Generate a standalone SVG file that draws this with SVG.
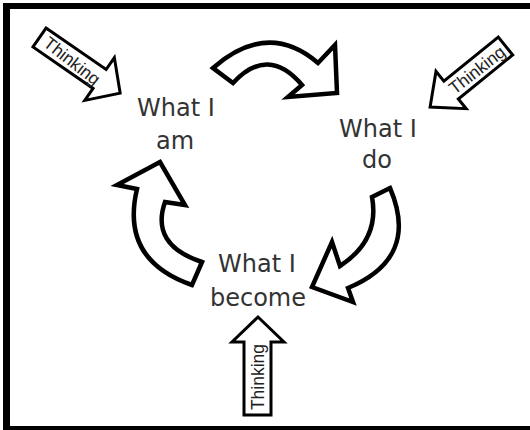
<svg xmlns="http://www.w3.org/2000/svg" width="530" height="430" viewBox="0 0 530 430">
<style>
.frame{fill:#000}
.cyc{fill:#fff;stroke:#000;stroke-width:4.5;stroke-linejoin:miter}
.th{fill:#fff;stroke:#000;stroke-width:3;stroke-linejoin:miter}
.lbl{font-family:"DejaVu Sans","Liberation Sans",sans-serif;font-size:24px;fill:#333;text-anchor:middle}
.tt{font-family:"Liberation Sans",Arial,sans-serif;font-size:17.5px;fill:#222;text-anchor:middle}
</style>
<rect width="530" height="430" fill="#fff"/>
<g id="frame">
<rect class="frame" x="3" y="3" width="527" height="6"/>
<rect class="frame" x="3" y="3" width="7" height="427"/>
<rect class="frame" x="3" y="426" width="527" height="4"/>
</g>
<g id="connectors">
<path id="arrow-am-do" class="cyc" d="M213,68 Q268,20 318,63 L335,45 L337,93 L288,97 L302,85 Q268,45 233,83 Z"/>
<path id="arrow-do-become" class="cyc" d="M372,197 L390,188 Q420,258 348,288 L353,302 L312,287 L332,242 L340,266 Q380,240 372,197 Z"/>
<path id="arrow-become-am" class="cyc" d="M137,189 L117,185 L160,162 L185,205 L165,202 Q150,245 202,262 L192,285 Q120,260 137,189 Z"/>
</g>
<g id="node-am">
<text class="lbl" x="176" y="116">What I</text>
<text class="lbl" x="175" y="149">am</text>
</g>
<g id="node-do">
<text class="lbl" x="378" y="137">What I</text>
<text class="lbl" x="377" y="168">do</text>
</g>
<g id="node-become">
<text class="lbl" x="257" y="272">What I</text>
<text class="lbl" x="258" y="306">become</text>
</g>
<g id="thinking-1">
<path class="th" transform="translate(39.5,37.5) rotate(34.6)" d="M0,-11.5 L73,-11.5 L73,-26 L98,0 L73,26 L73,11.5 L0,11.5 Z"/>
<text class="tt" transform="translate(72,61) rotate(38)" y="6">Thinking</text>
</g>
<g id="thinking-2">
<path class="th" transform="translate(505.5,46) rotate(141)" d="M0,-11.5 L70,-11.5 L70,-24 L97,0 L70,24 L70,11.5 L0,11.5 Z"/>
<text class="tt" transform="translate(477,70) rotate(-38)" y="6">Thinking</text>
</g>
<g id="thinking-3">
<path class="th" d="M244,415 L244,342 L232,342 L258,317 L284,342 L271,342 L271,415 Z"/>
<text class="tt" transform="translate(257.5,377) rotate(-90)" y="6">Thinking</text>
</g>
</svg>
